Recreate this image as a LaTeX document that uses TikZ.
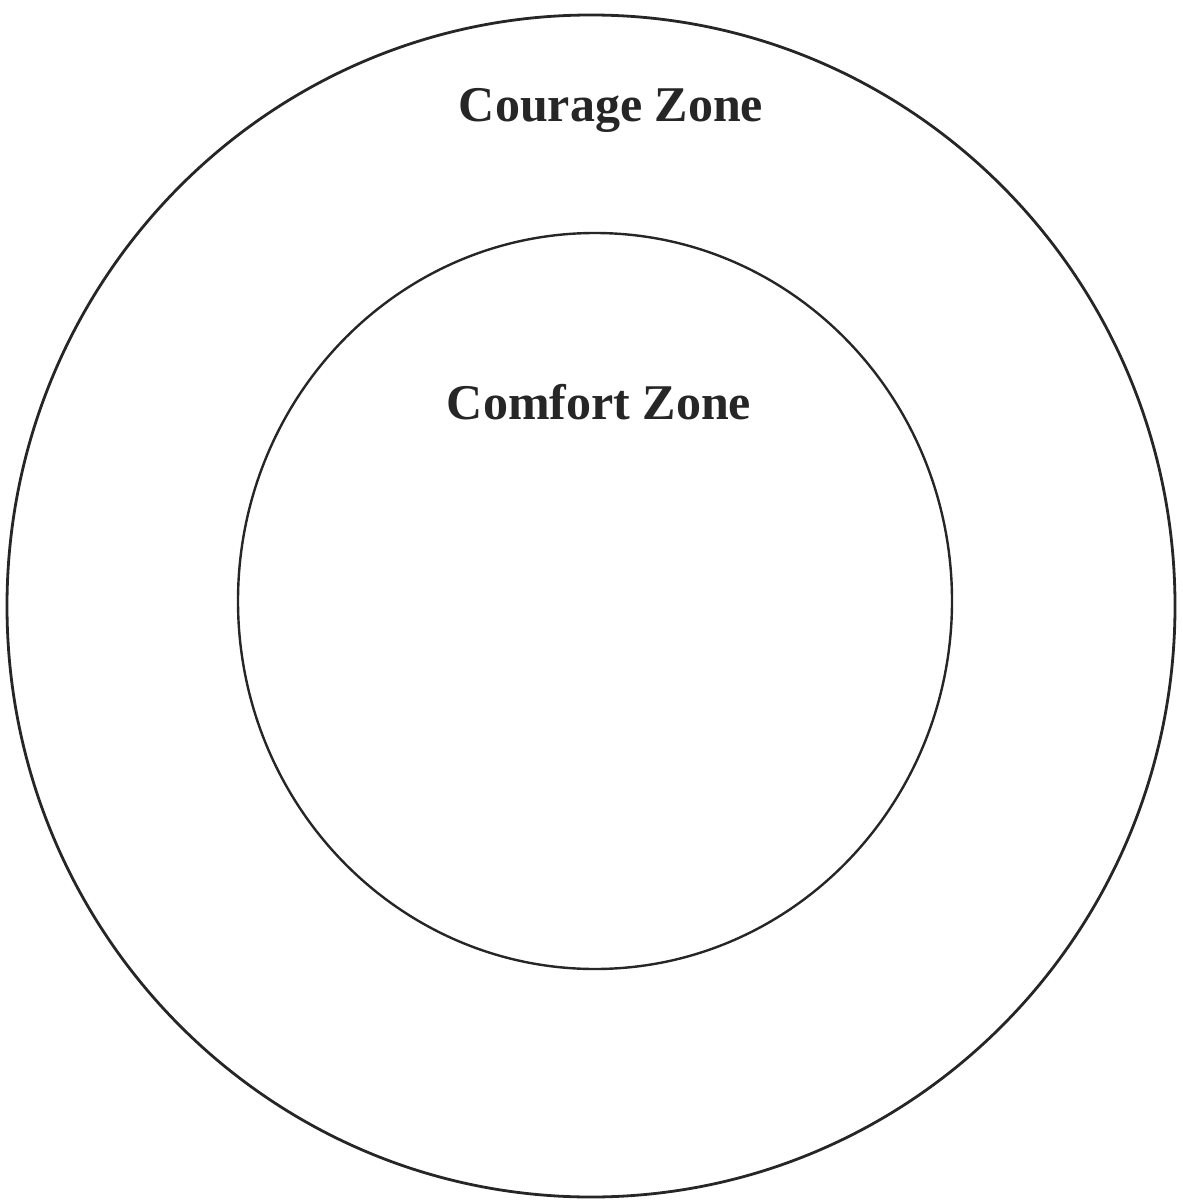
\documentclass[tikz,border=0pt]{standalone}
\usepackage{fontspec}
\setmainfont{Liberation Serif}
\usepackage{tikz}
\tikzset{
  zoneline/.style={line width=1.4pt, black!85},
  zonelabel/.style={font=\fontsize{25}{30}\selectfont\bfseries, text=black!85, anchor=base, inner sep=0pt},
}

\begin{document}
\begin{tikzpicture}[x=0.5pt, y=-0.5pt]
\useasboundingbox (0,0) rectangle (1182,1203);
\draw[zoneline] (591,606) ellipse[x radius=584, y radius=591];
\draw[zoneline, line width=1.2pt] (595,601) ellipse[x radius=357, y radius=368];
\node[zonelabel] (courage) at (611,122) {Courage Zone};
\node[zonelabel] (comfort) at (599,419) {Comfort Zone};
\end{tikzpicture}
\end{document}
